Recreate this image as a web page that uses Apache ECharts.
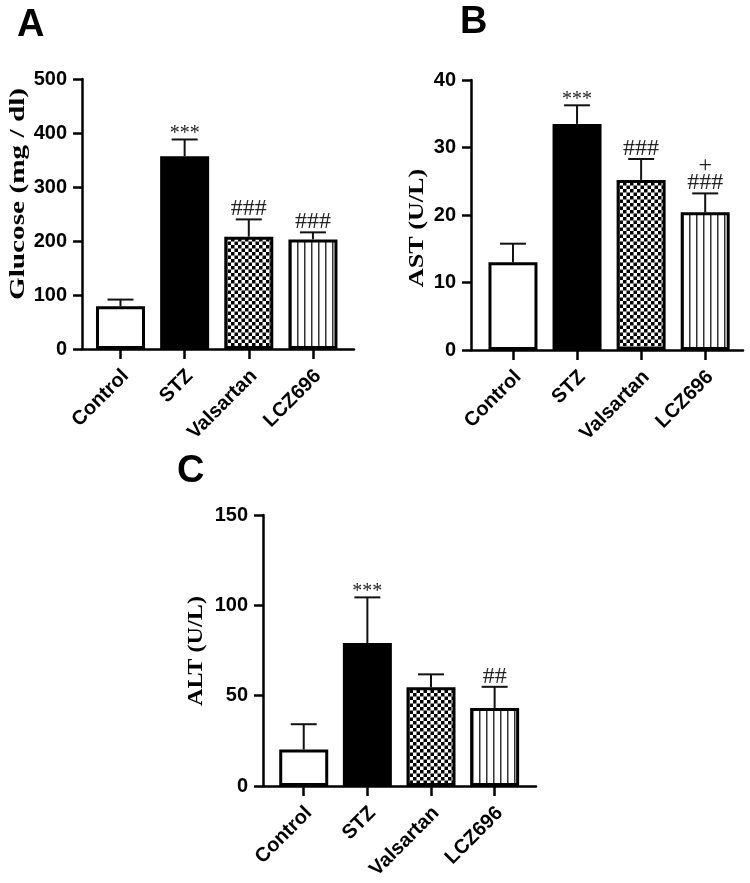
<!DOCTYPE html>
<html><head><meta charset="utf-8">
<script src="https://cdn.jsdelivr.net/npm/echarts@6/dist/echarts.min.js"></script>
<style>html,body{margin:0;padding:0;background:#fff}#c{width:750px;height:883px}</style>
</head><body><div id="c"></div>
<script>
// ---- data ----
const categories = ['Control', 'STZ', 'Valsartan', 'LCZ696'];
const glucoseMean = [79, 357, 208, 203];
const glucoseSD = [12.5, 31, 32, 13];
const glucoseMarks = ['', '***', '###', '###'];
const glucoseTicks = [0, 100, 200, 300, 400, 500];
const astMean = [13.0, 33.5, 25.2, 20.4];
const astSD = [2.75, 2.75, 3.1, 2.8];
const astMarks = ['', '***', '###', '+\n###'];
const astTicks = [0, 10, 20, 30, 40];
const altMean = [20.2, 79.1, 54.7, 43.2];
const altSD = [14.0, 25.3, 7.1, 11.7];
const altMarks = ['', '***', '', '##'];
const altTicks = [0, 50, 100, 150];
const panelLetters = ['A', 'B', 'C'];
const yTitles = ['Glucose (mg / dl)', 'AST (U/L)', 'ALT (U/L)'];

// ---- fill patterns ----
function checker() {
  const c = document.createElement('canvas'); c.width = 7; c.height = 7;
  const g = c.getContext('2d');
  g.fillStyle = '#fff'; g.fillRect(0, 0, 7, 7);
  g.fillStyle = '#000'; g.fillRect(0, 0, 3.5, 3.5); g.fillRect(3.5, 3.5, 3.5, 3.5);
  return { image: c, repeat: 'repeat' };
}
function stripes() {
  const c = document.createElement('canvas'); c.width = 7; c.height = 4;
  const g = c.getContext('2d');
  g.fillStyle = '#fff'; g.fillRect(0, 0, 7, 4);
  g.fillStyle = '#333'; g.fillRect(3, 0, 1.5, 4);
  return { image: c, repeat: 'repeat' };
}
const fills = ['#ffffff', '#000000', checker(), stripes()];

const labelShift = 0.08;
const grids = [], xAxes = [], yAxes = [], series = [];

function addPanel(i, rect, xr, ticks, means, sds, marks) {
  grids.push(Object.assign({ containLabel: false, outerBoundsMode: 'none' }, rect));
  const catIdx = categories.map((c, k) => k);
  xAxes.push({
    type: 'value', gridIndex: i, min: xr[0], max: xr[1],
    splitLine: { show: false },
    axisLine: { show: true, onZero: false, lineStyle: { color: '#000', width: 2.5 } },
    axisTick: { show: true, customValues: catIdx, length: 10, lineStyle: { color: '#000', width: 2.5 } },
    axisLabel: {
      customValues: catIdx.map(k => k + labelShift), rotate: 45, margin: 24,
      formatter: v => categories[Math.round(v - labelShift)] || '',
      color: '#000', fontSize: 20, fontWeight: 'bold', fontFamily: 'Liberation Sans'
    }
  });
  yAxes.push({
    type: 'value', gridIndex: i, min: ticks[0], max: ticks[ticks.length - 1],
    interval: ticks[1] - ticks[0],
    splitLine: { show: false },
    axisLine: { show: true, onZero: false, lineStyle: { color: '#000', width: 2.5 } },
    axisTick: { show: true, length: 9, lineStyle: { color: '#000', width: 2.5 } },
    axisLabel: { margin: 15, color: '#000', fontSize: 20, fontWeight: 'bold', fontFamily: 'Liberation Sans' }
  });
  series.push({
    type: 'bar', xAxisIndex: i, yAxisIndex: i, barWidth: 49, z: 2,
    data: means.map((m, k) => ({ value: [k, m], itemStyle: { color: fills[k] } })),
    itemStyle: { borderColor: '#000', borderWidth: 3 },
    silent: true
  });
  series.push({
    type: 'custom', xAxisIndex: i, yAxisIndex: i, z: 5, silent: true,
    data: means.map((m, k) => [k, m, m + sds[k]]),
    renderItem: function (params, api) {
      const x = api.value(0);
      const top = api.coord([x, api.value(1)]);
      const err = api.coord([x, api.value(2)]);
      const children = [
        { type: 'line', shape: { x1: top[0], y1: top[1], x2: err[0], y2: err[1] }, style: { stroke: '#111', lineWidth: 2 } },
        { type: 'line', shape: { x1: err[0] - 13, y1: err[1], x2: err[0] + 13, y2: err[1] }, style: { stroke: '#111', lineWidth: 2 } }
      ];
      const t = marks[params.dataIndex];
      if (t) {
        const star = t.indexOf('*') >= 0;
        children.push({
          type: 'text',
          style: {
            text: t, x: err[0], y: err[1] + (star ? 3 : -2), align: 'center', verticalAlign: 'bottom',
            fill: '#222', font: (star ? '20px' : '24px') + ' "Liberation Serif"', lineHeight: 17
          }
        });
      }
      return { type: 'group', children: children };
    }
  });
}

addPanel(0, { left: 82, top: 79, width: 272, height: 270 }, [-0.6, 3.64], glucoseTicks, glucoseMean, glucoseSD, glucoseMarks);
addPanel(1, { left: 471, top: 80, width: 272, height: 270 }, [-0.655, 3.59], astTicks, astMean, astSD, astMarks);
addPanel(2, { left: 263, top: 515, width: 273, height: 271 }, [-0.64, 3.65], altTicks, altMean, altSD, altMarks);

const letterPos = [[17, 7], [460, 4], [177, 453]];
const titlePos = [[18, 194, 1.33], [417, 228, 1.19], [196, 651, 1.10]];

const option = {
  animation: false,
  backgroundColor: '#fff',
  title: panelLetters.map((t, k) => ({
    text: t, left: letterPos[k][0], top: letterPos[k][1], padding: 0,
    textStyle: { fontSize: 38, fontWeight: 'bold', fontFamily: 'Liberation Sans', color: '#000' }
  })),
  graphic: yTitles.map((t, k) => ({
    type: 'text', x: titlePos[k][0], y: titlePos[k][1], rotation: Math.PI / 2, scaleX: titlePos[k][2],
    style: { text: t, font: 'bold 22px "Liberation Serif"', fill: '#000', align: 'center', verticalAlign: 'middle' }
  })),
  grid: grids, xAxis: xAxes, yAxis: yAxes, series: series
};
const chart = echarts.init(document.getElementById('c'), null, { renderer: 'canvas' });
chart.setOption(option);
</script></body></html>
